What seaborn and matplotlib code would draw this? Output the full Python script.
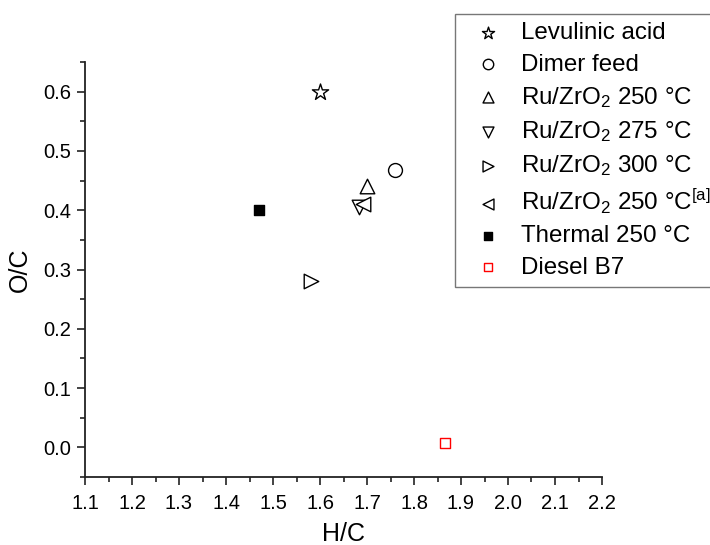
import matplotlib
matplotlib.use('Agg')
import matplotlib.pyplot as plt
from matplotlib.ticker import MultipleLocator, FormatStrFormatter
import seaborn as sns

# Van Krevelen style data (H/C vs O/C)
labels = ['Levulinic acid', 'Dimer feed', r'Ru/ZrO$_2$ 250 °C', r'Ru/ZrO$_2$ 275 °C',
          r'Ru/ZrO$_2$ 300 °C', r'Ru/ZrO$_2$ 250 °C$^{[a]}$', 'Thermal 250 °C', 'Diesel B7']
hc = [1.60, 1.76, 1.70, 1.683, 1.58, 1.692, 1.47, 1.865]
oc = [0.60, 0.468, 0.441, 0.405, 0.28, 0.41, 0.40, 0.008]
markers = ['*', 'o', '^', 'v', '>', '<', 's', 's']
sizes = [150, 100, 110, 110, 110, 110, 60, 60]
face = ['white', 'white', 'white', 'white', 'white', 'white', 'black', 'white']
edge = ['black', 'black', 'black', 'black', 'black', 'black', 'black', 'red']

sns.set_theme(style='ticks')
plt.rcParams['font.family'] = ['Liberation Sans', 'DejaVu Sans']
plt.rcParams['mathtext.default'] = 'regular'
plt.rcParams['text.color'] = 'black'
plt.rcParams['axes.labelcolor'] = 'black'

fig = plt.figure(figsize=(7.1, 5.45), dpi=100)
ax = fig.add_axes([85 / 710, 1 - 477 / 545, 517 / 710, 415 / 545])

for i in range(len(labels)):
    sns.scatterplot(x=[hc[i]], y=[oc[i]], marker=markers[i], s=sizes[i],
                    color=face[i], edgecolor=edge[i], linewidth=1.0,
                    label=labels[i], ax=ax, legend=False)

ax.set_xlim(1.1, 2.2)
ax.set_ylim(-0.05, 0.65)
ax.xaxis.set_major_locator(MultipleLocator(0.1))
ax.xaxis.set_minor_locator(MultipleLocator(0.05))
ax.yaxis.set_minor_locator(MultipleLocator(0.05))
ax.xaxis.set_major_formatter(FormatStrFormatter('%.1f'))
ax.set_yticks([0.0, 0.1, 0.2, 0.3, 0.4, 0.5, 0.6])
ax.yaxis.set_major_formatter(FormatStrFormatter('%.1f'))

ax.tick_params(which='major', direction='out', length=6, width=1.2, labelsize=14.5,
               color='#222222', labelcolor='black', pad=4)
ax.tick_params(axis='x', which='major', pad=6)
ax.tick_params(which='minor', direction='out', length=3.5, width=1.2, color='#222222')
for s in ['top', 'right']:
    ax.spines[s].set_visible(False)
for s in ['left', 'bottom']:
    ax.spines[s].set_linewidth(1.3)
    ax.spines[s].set_color('#222222')

ax.set_xlabel('H/C', fontsize=18, labelpad=7)
ax.set_ylabel('O/C', fontsize=18, labelpad=8)

handles, lbls = ax.get_legend_handles_labels()
leg = fig.legend(handles, lbls, loc='upper left', bbox_to_anchor=(455 / 710, 1 - 14 / 545),
                 frameon=True, fancybox=False, edgecolor='#555555', fontsize=17.4,
                 borderaxespad=0, labelspacing=0.38, handletextpad=0.4, borderpad=0.35,
                 markerscale=0.75)
leg.get_frame().set_linewidth(1.0)

plt.savefig('out.png', dpi=100)
